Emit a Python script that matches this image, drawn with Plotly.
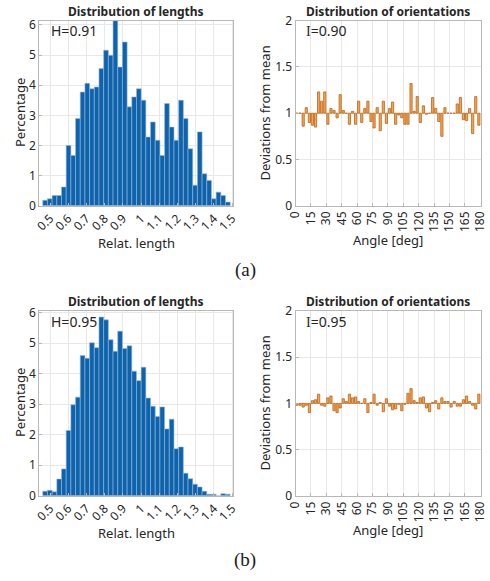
import plotly.graph_objects as go

# ---- histogram of relative lengths (percentage per bin) ----
len_bin_start = 0.46
len_bin_width = 0.02575
len_pct_a = [0.18, 0.23, 0.34, 0.34, 0.62, 2.00, 1.67, 2.89, 3.77, 4.06,
             3.88, 3.94, 4.55, 5.16, 4.99, 6.14, 4.60, 5.43, 3.28, 3.61,
             3.88, 3.50, 2.28, 2.78, 2.17, 1.67, 3.39, 2.61, 2.17, 3.50,
             2.89, 1.89, 0.68, 2.45, 1.06, 0.84, 0.23, 0.45, 0.34, 0.12]
len_pct_b = [0.15, 0.18, 0.13, 0.55, 0.88, 2.14, 2.98, 3.23, 4.59, 4.50,
             5.01, 4.85, 5.85, 5.76, 5.11, 4.73, 5.39, 4.82, 4.91, 4.08,
             3.77, 4.21, 3.20, 2.93, 2.60, 2.91, 2.19, 2.51, 1.54, 1.60,
             0.74, 0.56, 0.38, 0.29, 0.15, 0.05, 0.05, 0.00, 0.07, 0.05]
entropy_a = "H=0.91"
entropy_b = "H=0.95"

# ---- orientation deviations from mean, 3-degree bins ----
ang_bin_width = 3
orient_a = [1.00, 1.00, 0.86, 1.06, 0.90, 0.87, 0.85, 1.23, 1.13, 1.23,
            0.88, 1.05, 1.03, 0.95, 1.20, 1.03, 1.00, 0.88, 1.02, 0.88,
            1.13, 0.90, 1.05, 1.13, 0.91, 0.84, 1.06, 0.81, 1.13, 0.89,
            1.05, 1.12, 0.88, 0.98, 0.95, 0.88, 0.88, 1.32, 1.02, 1.18,
            0.90, 1.08, 0.99, 1.00, 1.17, 1.05, 0.91, 0.75, 1.06, 1.00,
            1.00, 1.00, 1.10, 1.17, 0.93, 0.92, 1.05, 0.78, 1.18, 0.87]
orient_b = [0.98, 0.98, 0.96, 0.98, 0.90, 1.03, 1.04, 1.10, 0.98, 0.97,
            1.06, 1.08, 0.92, 0.90, 0.95, 1.05, 1.02, 1.10, 1.06, 1.07,
            1.02, 1.00, 1.05, 0.90, 1.01, 1.10, 0.98, 1.01, 0.91, 1.05,
            0.97, 0.93, 0.94, 0.99, 0.92, 0.99, 1.11, 1.16, 1.03, 1.01,
            1.06, 1.07, 0.95, 0.91, 1.01, 1.03, 0.94, 1.06, 1.02, 1.02,
            0.96, 1.02, 0.97, 0.97, 1.04, 1.08, 1.02, 0.98, 0.94, 1.10]
isotropy_a = "0.90"
isotropy_b = "0.95"

len_ticks = [0.5, 0.6, 0.7, 0.8, 0.9, 1, 1.1, 1.2, 1.3, 1.4, 1.5]
len_tick_text = ["0.5", "0.6", "0.7", "0.8", "0.9", "1", "1.1", "1.2", "1.3", "1.4", "1.5"]
ang_ticks = list(range(0, 181, 15))
dev_ticks = [0, 0.5, 1, 1.5, 2]
dev_tick_text = ["0", "0.5", "1", "1.5", "2"]

W, H = 490, 581
FONT = "Noto Sans"
TXT = "#262626"
BLUE = "#0c63ae"
BLUE_EDGE = "#9db5cc"
ORANGE = "#f5a44e"
ORANGE_EDGE = "#b8661e"
GRID = "#e8e8e8"
FRAME = "#b8b8b8"


def px(x):
    return x / W


def py(y):
    return 1 - y / H


fig = go.Figure()

len_centers = [len_bin_start + (i + 0.5) * len_bin_width for i in range(len(len_pct_a))]
ang_centers = [(i + 0.5) * ang_bin_width for i in range(len(orient_a))]

for k, (pct, ori) in enumerate([(len_pct_a, orient_a), (len_pct_b, orient_b)]):
    xa = "x" if k == 0 else "x3"
    ya = "y" if k == 0 else "y3"
    xb = "x2" if k == 0 else "x4"
    yb = "y2" if k == 0 else "y4"
    fig.add_trace(go.Bar(
        x=len_centers, y=pct, width=len_bin_width,
        marker=dict(color=BLUE, line=dict(color=BLUE_EDGE, width=0.6)),
        xaxis=xa, yaxis=ya, showlegend=False, hoverinfo="skip"))
    fig.add_trace(go.Bar(
        x=ang_centers, y=[v - 1 for v in ori], base=1, width=ang_bin_width * 0.72,
        marker=dict(color=ORANGE, line=dict(color=ORANGE_EDGE, width=0.8)),
        xaxis=xb, yaxis=yb, showlegend=False, hoverinfo="skip"))

left_dom = [px(39.3), px(233.3)]
right_dom = [px(295.5), px(481.0)]
top_dom = [py(205.7), py(20.7)]
bot_dom = [py(495.8), py(311.0)]

common = dict(showgrid=True, gridcolor=GRID, gridwidth=1, zeroline=False,
              showline=True, linecolor=FRAME, linewidth=1, mirror=True,
              ticks="inside", ticklen=3, tickcolor=FRAME, automargin=False,
              ticklabeloverflow="allow",
              tickfont=dict(family=FONT, size=12, color=TXT))

len_x = dict(common, range=[0.441, 1.507], tickvals=len_ticks, ticktext=len_tick_text,
             tickangle=-45)
ang_x = dict(common, range=[0, 180.6], tickvals=ang_ticks, tickangle=-90)
dev_y = dict(common, range=[0, 2], tickvals=dev_ticks, ticktext=dev_tick_text)

fig.update_layout(
    width=W, height=H, autosize=False,
    margin=dict(l=0, r=0, t=0, b=0, autoexpand=False),
    paper_bgcolor="white", plot_bgcolor="white",
    barmode="overlay",
    font=dict(family=FONT, color=TXT),
    xaxis=dict(len_x, domain=left_dom, anchor="y"),
    yaxis=dict(common, domain=top_dom, anchor="x", range=[0, 6.14], tickvals=list(range(7))),
    xaxis2=dict(ang_x, domain=right_dom, anchor="y2"),
    yaxis2=dict(dev_y, domain=top_dom, anchor="x2"),
    xaxis3=dict(len_x, domain=left_dom, anchor="y3"),
    yaxis3=dict(common, domain=bot_dom, anchor="x3", range=[0, 6.05], tickvals=list(range(7))),
    xaxis4=dict(ang_x, domain=right_dom, anchor="y4"),
    yaxis4=dict(dev_y, domain=bot_dom, anchor="x4"),
)


def note(text, x, y, size=13, angle=0, xanchor="center", family=FONT, bold=False):
    fig.add_annotation(
        text=f"<b>{text}</b>" if bold else text,
        x=px(x), y=py(y), xref="paper", yref="paper",
        xanchor=xanchor, yanchor="middle", textangle=angle, showarrow=False,
        font=dict(family=family, size=size, color=TXT if family == FONT else "#1a1a1a"))


for dy, label, ent, iso in [(0, "(a)", entropy_a, isotropy_a), (290, "(b)", entropy_b, isotropy_b)]:
    note("Distribution of lengths", 136.3, 11.8 + dy, size=12, bold=True)
    note("Distribution of orientations", 388.3, 11.8 + dy, size=12, bold=True)
    note("Percentage", 20, 113 + dy, size=13, angle=-90)
    note("Deviations from mean", 264.5, 113 + dy, size=13, angle=-90)
    note("Relat. length", 136.3, 243 + dy, size=13)
    note("Angle [deg]", 388.3, 240 + dy, size=13)
    note(ent, 48.5, 31 + dy, size=14, xanchor="left")
    note('<span style="font-family:Liberation Serif">I</span>=' + iso, 303.5, 31 + dy,
         size=14, xanchor="left")
    note(label, 245, 270 + dy, size=19, family="Liberation Serif")

fig.write_html("out.html")
